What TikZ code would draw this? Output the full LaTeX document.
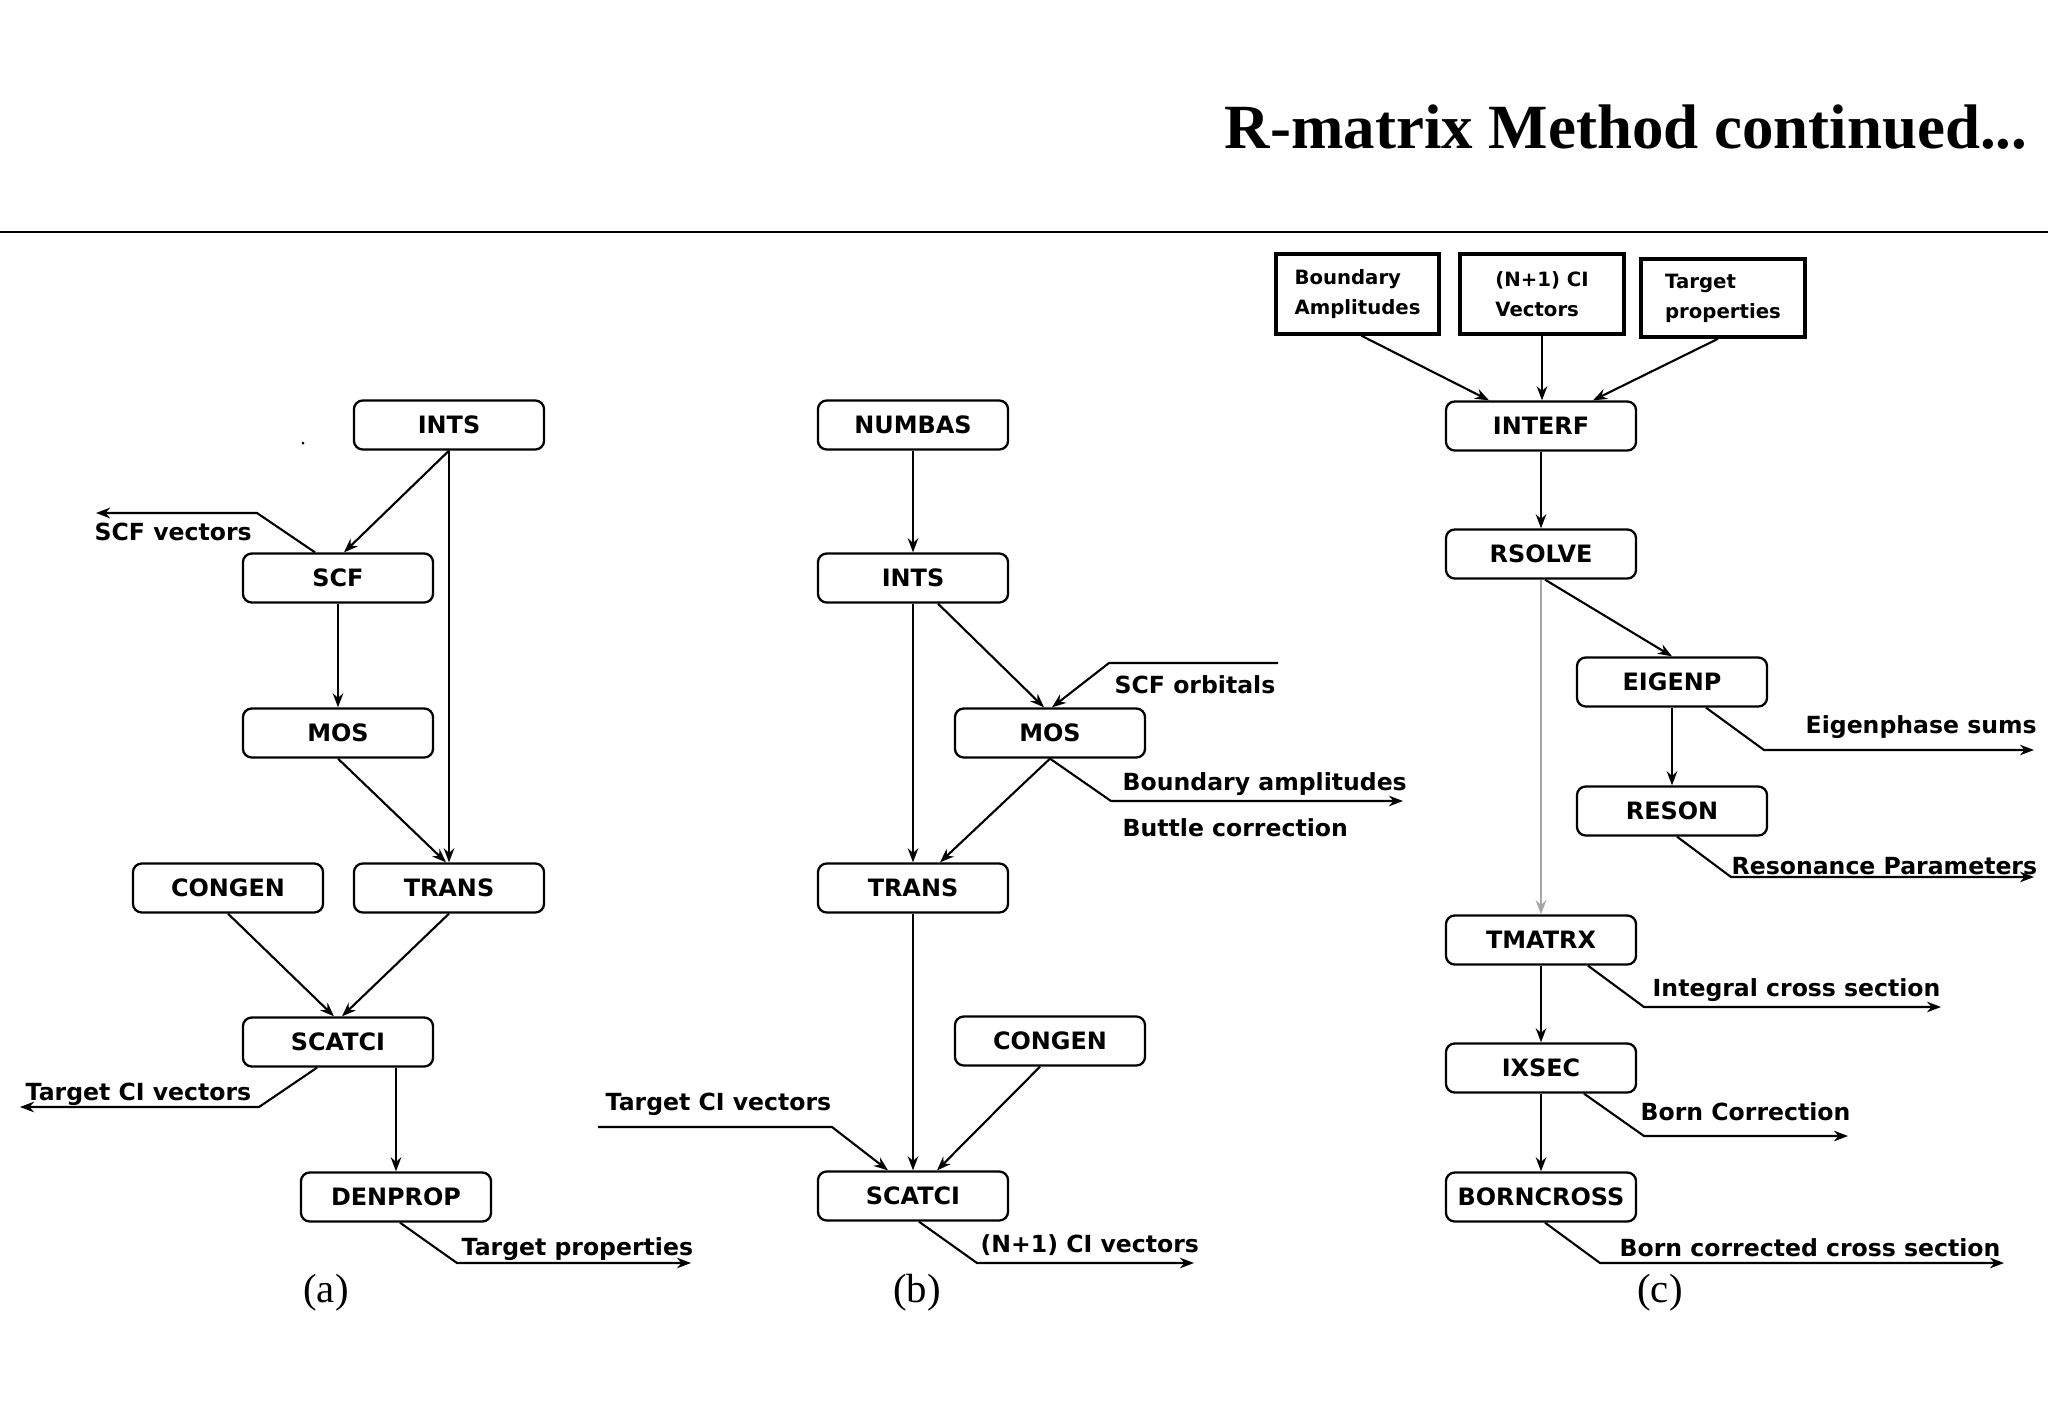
\documentclass[tikz,border=0pt]{standalone}
\usepackage{fontspec}
\usetikzlibrary{calc,arrows.meta}
\newfontfamily\djv{DejaVu Sans}
\newfontfamily\lsr{Liberation Serif}
\newcommand\boxfont{\djv\bfseries\fontsize{6.8pt}{8pt}\selectfont}
\newcommand\labfont{\djv\bfseries\fontsize{6.7pt}{8pt}\selectfont}
\newcommand\topfont{\djv\bfseries\fontsize{5.6pt}{8.5pt}\selectfont}
\begin{document}
\begin{tikzpicture}[x=0.01cm,y=-0.01cm,
  prog/.style={draw, rounded corners=2.5pt, line width=0.65pt, minimum width=1.9cm, minimum height=0.49cm, inner sep=0pt, font=\boxfont},
  tbox/.style={draw, line width=1pt, minimum width=1.63cm, minimum height=0.8cm, inner sep=0pt, align=left, font=\topfont},
  conn/.style={line width=0.6pt, -{Stealth[length=4pt,width=3pt]}},
  lab/.style={font=\labfont, inner sep=0pt, anchor=base west},
  figcap/.style={font=\lsr\fontsize{11.6pt}{13pt}\selectfont, inner sep=0pt}]
\fill[white] (0,0) rectangle (2048,1418);
\useasboundingbox (0,0) rectangle (2048,1418);

% title and rule
\node[anchor=base east, inner sep=0pt, font=\lsr\bfseries\fontsize{17.9pt}{20pt}\selectfont] (title) at (2028,148) {R-matrix Method continued...};
\draw[line width=0.85pt] (0,232) -- (2048,232);
\fill (303,443) circle (1.5);

% ---------- panel (a)
\node[prog] (intsA) at (449,425) {INTS};
\node[prog] (scfA) at (338,578) {SCF};
\node[prog] (mosA) at (338,733) {MOS};
\node[prog] (congenA) at (228,888) {CONGEN};
\node[prog] (transA) at (449,888) {TRANS};
\node[prog] (scatciA) at (338,1042) {SCATCI};
\node[prog] (denprop) at (396,1197) {DENPROP};
\node[figcap] (capA) at (326,1293) {(a)};

\coordinate (scfv1) at (257,513);
\coordinate (scfv2) at (96,513);
\coordinate (tcv1) at (259,1107);
\coordinate (tcv2) at (20,1107);
\coordinate (tp1) at (457,1263);
\coordinate (tp2) at (691,1263);

\draw[conn] (intsA.south) -- (transA.north);
\draw[conn] (intsA.south) -- ($(scfA.north)+(6,0)$);
\draw[conn] ($(scfA.north)+(-23,0)$) -- (scfv1) -- (scfv2);
\draw[conn] (scfA.south) -- (mosA.north);
\draw[conn] (mosA.south) -- ($(transA.north)+(-3,0)$);
\draw[conn] (congenA.south) -- ($(scatciA.north)+(-4,0)$);
\draw[conn] (transA.south) -- ($(scatciA.north)+(4,0)$);
\draw[conn] ($(scatciA.south)+(-21,0)$) -- (tcv1) -- (tcv2);
\draw[conn] (scatciA.south -| denprop.north) -- (denprop.north);
\draw[conn] ($(denprop.south)+(4,0)$) -- (tp1) -- (tp2);

\node[lab] (lscfv) at (94,540) {SCF vectors};
\node[lab] (ltcvA) at (25,1100) {Target CI vectors};
\node[lab] (ltpA) at (461,1255) {Target properties};

% ---------- panel (b)
\node[prog] (numbas) at (913,425) {NUMBAS};
\node[prog] (intsB) at (913,578) {INTS};
\node[prog] (mosB) at (1050,733) {MOS};
\node[prog] (transB) at (913,888) {TRANS};
\node[prog] (congenB) at (1050,1041) {CONGEN};
\node[prog] (scatciB) at (913,1196) {SCATCI};
\node[figcap] (capB) at (917,1293) {(b)};

\coordinate (scfo1) at (1278,663);
\coordinate (scfo2) at (1109,663);
\coordinate (ba1) at (1111,801);
\coordinate (ba2) at (1403,801);
\coordinate (tcb1) at (598,1127);
\coordinate (tcb2) at (832,1127);
\coordinate (nc1) at (977,1263);
\coordinate (nc2) at (1194,1263);

\draw[conn] (numbas.south) -- (intsB.north);
\draw[conn] (intsB.south) -- (transB.north);
\draw[conn] ($(intsB.south)+(25,0)$) -- ($(mosB.north)+(-6,0)$);
\draw[conn] (scfo1) -- (scfo2) -- ($(mosB.north)+(2,0)$);
\draw[conn] (mosB.south) -- ($(transB.north)+(27,0)$);
\draw[conn] (mosB.south) -- (ba1) -- (ba2);
\draw[conn] (transB.south) -- (scatciB.north);
\draw[conn] ($(congenB.south)+(-10,0)$) -- ($(scatciB.north)+(24,0)$);
\draw[conn] (tcb1) -- (tcb2) -- ($(scatciB.north)+(-25,0)$);
\draw[conn] ($(scatciB.south)+(6,0)$) -- (nc1) -- (nc2);

\node[lab] (lscfo) at (1114,693) {SCF orbitals};
\node[lab] (lba) at (1122,790) {Boundary amplitudes};
\node[lab] (lbc) at (1122,836) {Buttle correction};
\node[lab] (ltcvB) at (605,1110) {Target CI vectors};
\node[lab] (lnc) at (980,1252) {(N+1) CI vectors};

% ---------- panel (c)
\node[tbox] (bamp) at (1357.5,294) {Boundary\\Amplitudes};
\node[tbox, minimum width=1.64cm] (ncvec) at (1542,294) {(N+1) CI\\Vectors};
\node[tbox, minimum width=1.64cm, minimum height=0.78cm] (tprop) at (1723,298) {Target\\properties};
\node[prog] (interf) at (1541,426) {INTERF};
\node[prog] (rsolve) at (1541,554) {RSOLVE};
\node[prog] (eigenp) at (1672,682) {EIGENP};
\node[prog] (reson) at (1672,811) {RESON};
\node[prog] (tmatrx) at (1541,940) {TMATRX};
\node[prog] (ixsec) at (1541,1068) {IXSEC};
\node[prog] (borncross) at (1541,1197) {BORNCROSS};
\node[figcap] (capC) at (1660,1293) {(c)};

\coordinate (es1) at (1764,750);
\coordinate (es2) at (2034,750);
\coordinate (rp1) at (1731,877);
\coordinate (rp2) at (2034,877);
\coordinate (ic1) at (1644,1007);
\coordinate (ic2) at (1941,1007);
\coordinate (bc1) at (1644,1136);
\coordinate (bc2) at (1848,1136);
\coordinate (bcc1) at (1600,1263);
\coordinate (bcc2) at (2004,1263);

\draw[conn] ($(bamp.south)+(4,0)$) -- ($(interf.north)+(-52,0)$);
\draw[conn] (ncvec.south) -- (ncvec.south |- interf.north);
\draw[conn] ($(tprop.south)+(-5,0)$) -- ($(interf.north)+(52,0)$);
\draw[conn] (interf.south) -- (rsolve.north);
\draw[conn, gray!70] (rsolve.south) -- (tmatrx.north);
\draw[conn] ($(rsolve.south)+(4,0)$) -- (eigenp.north);
\draw[conn] (eigenp.south) -- (reson.north);
\draw[conn] ($(eigenp.south)+(34,0)$) -- (es1) -- (es2);
\draw[conn] ($(reson.south)+(5,0)$) -- (rp1) -- (rp2);
\draw[conn] (tmatrx.south) -- (ixsec.north);
\draw[conn] ($(tmatrx.south)+(47,0)$) -- (ic1) -- (ic2);
\draw[conn] (ixsec.south) -- (borncross.north);
\draw[conn] ($(ixsec.south)+(43,0)$) -- (bc1) -- (bc2);
\draw[conn] ($(borncross.south)+(4,0)$) -- (bcc1) -- (bcc2);

\node[lab] (les) at (1805,733) {Eigenphase sums};
\node[lab] (lrp) at (1731,874) {Resonance Parameters};
\node[lab] (lic) at (1652,996) {Integral cross section};
\node[lab] (lbcor) at (1640,1120) {Born Correction};
\node[lab] (lbcc) at (1619,1256) {Born corrected cross section};
\end{tikzpicture}
\end{document}
